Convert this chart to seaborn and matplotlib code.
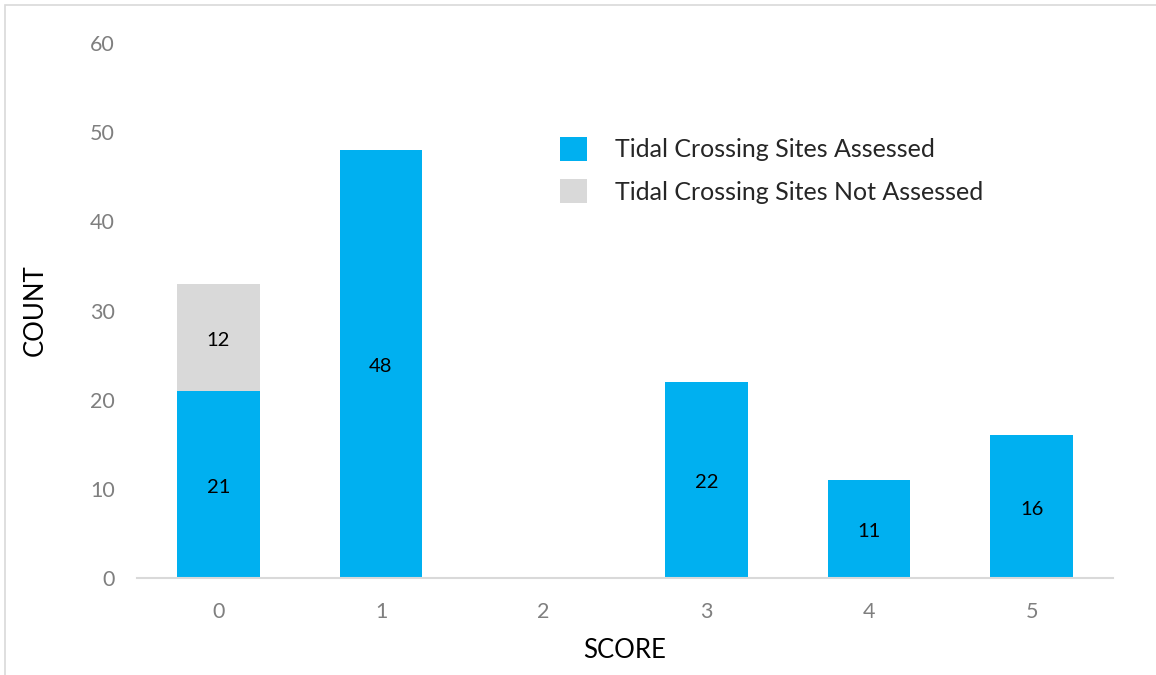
import matplotlib
matplotlib.use("Agg")
import matplotlib.pyplot as plt
import matplotlib.patches as mpatches
import seaborn as sns
import pandas as pd

scores = ["0", "1", "2", "3", "4", "5"]
assessed = [21, 48, 0, 22, 11, 16]
not_assessed = [12, 0, 0, 0, 0, 0]
y_ticks = [0, 10, 20, 30, 40, 50, 60]

blue = "#00B0F0"
grey = "#D9D9D9"
tick_color = "#7F7F7F"

sns.set_theme(style="white")
plt.rcParams["font.family"] = ["Lato", "DejaVu Sans"]

df = pd.DataFrame({"score": scores, "assessed": assessed, "not_assessed": not_assessed})

fig = plt.figure(figsize=(11.56, 6.75), dpi=100)
ax = fig.add_axes([0.1185, 0.1437, 0.8443, 0.7926])

sns.barplot(data=df, x="score", y="assessed", color=blue, width=0.51,
            saturation=1, ax=ax, linewidth=0)
sns.barplot(data=df, x="score", y="not_assessed", color=grey, width=0.51,
            saturation=1, ax=ax, linewidth=0, bottom=df["assessed"])

# value labels centred in each segment
def label(x, y, value):
    ax.annotate(str(value), (x, y), xytext=(0, -2), textcoords="offset points",
                ha="center", va="center", fontsize=14.5, color="black")

for i, (a, n) in enumerate(zip(assessed, not_assessed)):
    if a > 0:
        label(i, a / 2, a)
    if n > 0:
        label(i, a + n / 2, n)

ax.set_ylim(0, 60)
ax.set_xlim(-0.5, 5.5)
ax.set_yticks(y_ticks)
ax.tick_params(axis="both", length=0, labelsize=15.5, colors=tick_color)
ax.tick_params(axis="y", pad=16)
ax.tick_params(axis="x", pad=17)
ax.set_xlabel("SCORE", fontsize=18.5, color="black", labelpad=12)
ax.set_ylabel("COUNT", fontsize=18.5, color="black", labelpad=30)

for s in ["top", "right", "left"]:
    ax.spines[s].set_visible(False)
ax.spines["bottom"].set_color(grey)
ax.spines["bottom"].set_linewidth(1.5)

handles = [mpatches.Patch(facecolor=blue, edgecolor="none", label="Tidal Crossing Sites Assessed"),
           mpatches.Patch(facecolor=grey, edgecolor="none", label="Tidal Crossing Sites Not Assessed")]
leg = ax.legend(handles=handles, loc="upper left", bbox_to_anchor=(0.433, 0.825),
                frameon=False, fontsize=18, handlelength=1.1, handleheight=1.1,
                handletextpad=1.1, labelspacing=0.72, borderpad=0, borderaxespad=0)

# outer chart frame
fig.patches.append(mpatches.Rectangle((5 / 1156, -0.01), 1.02, 1 - 5 / 675 + 0.01,
                                      transform=fig.transFigure, fill=False,
                                      edgecolor="#D9D9D9", linewidth=1.2))

fig.savefig("out.png", dpi=100)
